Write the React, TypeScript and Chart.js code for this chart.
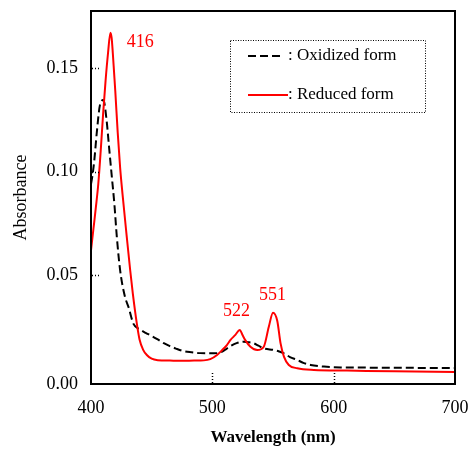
import React, { useEffect, useRef } from "react";
import { Chart, registerables } from "chart.js";

Chart.register(...registerables);

// Oxidized form (black dashed)
const oxWavelength = [400, 401, 402.7, 404.7, 407.4, 410.2, 412.9, 414.9, 417, 419.3, 421.3, 424, 428, 431, 435, 440.5, 445, 450, 455, 460, 465, 470, 476, 483, 490, 497, 504, 510, 515, 520, 525.9, 530, 534, 538, 542.4, 550.7, 555, 559, 564, 570, 575, 581, 592, 606, 630, 660, 700];
const oxAbsorbance = [0.094, 0.0973, 0.1053, 0.1184, 0.1322, 0.1345, 0.1245, 0.1117, 0.0985, 0.0841, 0.0684, 0.0524, 0.0396, 0.0345, 0.0265, 0.0238, 0.0222, 0.0207, 0.019, 0.0172, 0.0158, 0.0146, 0.0134, 0.0128, 0.0124, 0.0123, 0.0124, 0.0138, 0.0158, 0.0172, 0.0179, 0.0177, 0.0172, 0.016, 0.0147, 0.0139, 0.0132, 0.0123, 0.0105, 0.0091, 0.0077, 0.0067, 0.0059, 0.0055, 0.0054, 0.0053, 0.0052];

// Reduced form (red solid)
const redWavelength = [400, 402, 404, 406, 408, 410, 412, 414, 416, 417, 418, 419, 420, 422, 424, 426, 429.5, 432.3, 434.5, 437.8, 440, 443, 446, 450, 455, 465, 475, 485, 493, 498.3, 503.9, 508, 512, 515, 519, 522.6, 525, 527, 531.4, 537, 542.4, 546.5, 550, 553.5, 556.2, 559, 563, 570, 583.7, 611, 650, 700];
const redAbsorbance = [0.062, 0.0723, 0.0827, 0.094, 0.11, 0.128, 0.1438, 0.157, 0.167, 0.1645, 0.157, 0.148, 0.139, 0.119, 0.102, 0.089, 0.0684, 0.0524, 0.041, 0.0265, 0.019, 0.014, 0.0115, 0.0097, 0.009, 0.0088, 0.0087, 0.0088, 0.0089, 0.0095, 0.0115, 0.0138, 0.0163, 0.0188, 0.0212, 0.0236, 0.021, 0.0188, 0.0155, 0.0139, 0.0155, 0.025, 0.0319, 0.028, 0.0172, 0.0107, 0.0067, 0.0051, 0.0043, 0.004, 0.0036, 0.0033];

const xTickValues = [400, 500, 600, 700];
const yTickValues = [0, 0.05, 0.1, 0.15];
const yTickLabels = ["0.00", "0.05", "0.10", "0.15"];

const peakLabels = ["416", "522", "551"];
const peakLabelX = [440.5, 520, 549.5];
const peakLabelY = [0.1625, 0.0327, 0.0404];

const seriesNames = [": Oxidized form", ": Reduced form"];

const FONT = "'Liberation Serif', 'Times New Roman', serif";

const framePlugin = {
  id: "framePlugin",
  afterDraw(chart: any) {
    const ctx = chart.ctx;
    const { left, top, right, bottom } = chart.chartArea;
    const xs = chart.scales.x;
    const ys = chart.scales.y;
    ctx.save();
    // dotted inner tick marks
    ctx.strokeStyle = "#000";
    ctx.lineWidth = 1.5;
    ctx.setLineDash([1, 2]);
    ys.ticks.forEach((t: any) => {
      if (t.value <= ys.min + 1e-6 || t.value >= ys.max - 1e-6) return;
      const y = Math.round(ys.getPixelForValue(t.value)) + 0.5;
      ctx.beginPath();
      ctx.moveTo(left + 1, y);
      ctx.lineTo(left + 10, y);
      ctx.stroke();
    });
    xs.ticks.forEach((t: any) => {
      if (t.value <= xs.min + 1e-6 || t.value >= xs.max - 1e-6) return;
      const x = Math.round(xs.getPixelForValue(t.value)) + 0.5;
      ctx.beginPath();
      ctx.moveTo(x, bottom - 1);
      ctx.lineTo(x, bottom - 13);
      ctx.stroke();
    });
    ctx.setLineDash([]);
    // frame
    ctx.lineWidth = 2;
    ctx.strokeRect(left, top, right - left, bottom - top);

    // peak labels
    ctx.fillStyle = "#ff0000";
    ctx.font = `18px ${FONT}`;
    ctx.textAlign = "center";
    ctx.textBaseline = "middle";
    peakLabels.forEach((lab, i) => {
      ctx.fillText(lab, xs.getPixelForValue(peakLabelX[i]), ys.getPixelForValue(peakLabelY[i]));
    });

    // legend box
    const bx = left + 139;
    const by = top + 29;
    const bw = 195;
    const bh = 72;
    ctx.strokeStyle = "#000";
    ctx.lineWidth = 1;
    ctx.setLineDash([1, 1.5]);
    ctx.strokeRect(bx + 0.5, by + 0.5, bw, bh);
    ctx.setLineDash([]);

    const ds = chart.data.datasets;
    const rows = [16, 55];
    const lineEnds = [33, 40];
    ctx.font = `17px ${FONT}`;
    ctx.textAlign = "left";
    ds.forEach((d: any, i: number) => {
      const y = by + rows[i];
      ctx.strokeStyle = d.borderColor;
      ctx.lineWidth = 2;
      ctx.setLineDash(d.borderDash || []);
      ctx.beginPath();
      ctx.moveTo(bx + 18, y);
      ctx.lineTo(bx + 18 + lineEnds[i], y);
      ctx.stroke();
      ctx.setLineDash([]);
      ctx.fillStyle = "#000";
      ctx.fillText(seriesNames[i], bx + 58, y);
    });
    ctx.restore();
  },
};

export default function App() {
  const ref = useRef<HTMLCanvasElement>(null);
  useEffect(() => {
    if (!ref.current) return;
    const chart = new Chart(ref.current, {
      type: "line",
      data: {
        datasets: [
          {
            label: "Oxidized form",
            data: oxWavelength.map((w, i) => ({ x: w, y: oxAbsorbance[i] })),
            borderColor: "#000000",
            borderWidth: 2,
            borderDash: [8, 4],
            pointRadius: 0,
            cubicInterpolationMode: "monotone",
            fill: false,
            order: 2,
          },
          {
            label: "Reduced form",
            data: redWavelength.map((w, i) => ({ x: w, y: redAbsorbance[i] })),
            borderColor: "#ff0000",
            borderWidth: 2,
            pointRadius: 0,
            cubicInterpolationMode: "monotone",
            fill: false,
            order: 1,
          },
        ],
      },
      options: {
        animation: false,
        responsive: false,
        events: [],
        layout: { padding: { top: 11, right: 16, left: 0, bottom: 0 } },
        plugins: { legend: { display: false }, tooltip: { enabled: false } },
        scales: {
          x: {
            type: "linear",
            min: 400,
            max: 700,
            afterFit: (s: any) => {
              s.height = 68;
              s.paddingLeft = 0;
              s.paddingRight = 0;
            },
            afterBuildTicks: (s: any) => {
              s.ticks = xTickValues.map((v) => ({ value: v }));
            },
            grid: { display: false, drawTicks: false },
            border: { display: false },
            ticks: {
              padding: 13,
              color: "#000",
              font: { family: FONT, size: 18 },
              maxRotation: 0,
              callback: (v: any) => String(v),
            },
            title: {
              display: true,
              text: "Wavelength (nm)",
              color: "#000",
              font: { family: FONT, size: 17, weight: "bold" },
              padding: { top: 0, bottom: 4 },
            },
          },
          y: {
            type: "linear",
            min: -0.0025,
            max: 0.1775,
            afterFit: (s: any) => {
              s.width = 91;
              s.paddingTop = 0;
              s.paddingBottom = 0;
            },
            afterBuildTicks: (s: any) => {
              s.ticks = yTickValues.map((v) => ({ value: v === 0 ? s.min : v }));
            },
            grid: { display: false, drawTicks: false },
            border: { display: false },
            ticks: {
              padding: 13,
              color: "#000",
              font: { family: FONT, size: 18 },
              callback: (_v: any, i: number) => yTickLabels[i],
            },
            title: {
              display: true,
              text: "Absorbance",
              color: "#000",
              font: { family: FONT, size: 18 },
              padding: { top: 10, bottom: 0 },
            },
          },
        },
      },
      plugins: [framePlugin],
    } as any);
    return () => chart.destroy();
  }, []);
  return (
    <div style={{ position: "fixed", left: 0, top: 0, width: 471, height: 452, background: "#fff" }}>
      <canvas ref={ref} width={471} height={452} style={{ display: "block" }} />
    </div>
  );
}
